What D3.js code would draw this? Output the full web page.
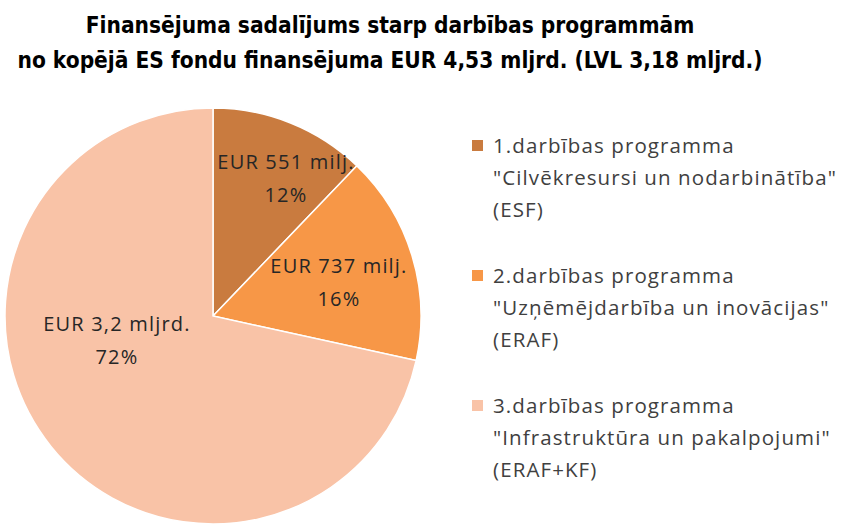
<!DOCTYPE html>
<html>
<head>
<meta charset="utf-8">
<script src="https://cdn.jsdelivr.net/npm/d3@7"></script>
<style>
  body { margin: 0; background: #fff; }
  svg { display: block; }
</style>
</head>
<body>
<div id="chart"></div>
<script>
// dati (milj. EUR)
const programmas = ["1.darbības programma", "2.darbības programma", "3.darbības programma"];
const apraksti = ["\"Cilvēkresursi un nodarbinātība\"", "\"Uzņēmējdarbība un inovācijas\"", "\"Infrastruktūra un pakalpojumi\""];
const fondi = ["(ESF)", "(ERAF)", "(ERAF+KF)"];
const vertibas = [551, 737, 3242];
const summas = ["EUR 551 milj.", "EUR 737 milj.", "EUR 3,2 mljrd."];
const procenti = ["12%", "16%", "72%"];
const krasas = ["#C97B3F", "#F79747", "#F9C3A7"];

const width = 842, height = 527;
const cx = 213, cy = 316, r = 208;

const svg = d3.select("#chart").append("svg")
    .attr("width", width)
    .attr("height", height);

// virsraksts
const title = svg.append("text")
    .attr("text-anchor", "middle")
    .attr("font-family", "'DejaVu Sans Condensed', 'Liberation Sans Narrow', sans-serif")
    .attr("font-weight", "bold")
    .attr("font-size", 22.5)
    .attr("fill", "#000");
title.append("tspan").attr("x", 390).attr("y", 33).text("Finansējuma sadalījums starp darbības programmām");
title.append("tspan").attr("x", 390).attr("y", 68).text("no kopējā ES fondu finansējuma EUR 4,53 mljrd. (LVL 3,18 mljrd.)");

// pīrāgs
const pie = d3.pie().sort(null).value(d => d);
const arcs = pie(vertibas);
const arc = d3.arc().innerRadius(0).outerRadius(r);

const g = svg.append("g").attr("transform", `translate(${cx},${cy})`);

g.selectAll("path")
    .data(arcs)
    .enter()
    .append("path")
    .attr("d", arc)
    .attr("fill", (d, i) => krasas[i])
    .attr("stroke", "#fff")
    .attr("stroke-width", 1.5);

// etiķetes: rādiuss un leņķa nobīde katrai daļai
const labelPos = [
    { k: 0.748, da: 0.106 },
    { k: 0.626, da: 0.039 },
    { k: 0.477, da: 0.423 }
];
const labels = g.selectAll(".lbl")
    .data(arcs)
    .enter()
    .append("text")
    .attr("class", "lbl")
    .attr("text-anchor", "middle")
    .attr("font-family", "'Open Sans', 'Noto Sans', sans-serif")
    .attr("font-size", 20)
    .attr("letter-spacing", 1.2)
    .attr("fill", "#262626")
    .attr("transform", (d, i) => {
        const a = (d.startAngle + d.endAngle) / 2 + labelPos[i].da;
        const rr = r * labelPos[i].k;
        return `translate(${Math.sin(a) * rr},${-Math.cos(a) * rr})`;
    });
labels.append("tspan").attr("x", 0).attr("dy", "-0.5em").text((d, i) => summas[i]);
labels.append("tspan").attr("x", 0).attr("dy", "1.65em").text((d, i) => procenti[i]);

// leģenda
const legend = svg.append("g").attr("transform", "translate(472,0)");
const items = legend.selectAll(".item")
    .data(programmas)
    .enter()
    .append("g")
    .attr("class", "item")
    .attr("transform", (d, i) => `translate(0,${146 + i * 130})`);

items.append("rect")
    .attr("x", 0).attr("y", -6)
    .attr("width", 11).attr("height", 11)
    .attr("fill", (d, i) => krasas[i]);

const lt = items.append("text")
    .attr("font-family", "'Open Sans', 'Noto Sans', sans-serif")
    .attr("font-size", 20.5)
    .attr("letter-spacing", 1.1)
    .attr("fill", "#404040");
lt.append("tspan").attr("x", 21).attr("y", 7).text(d => d);
lt.append("tspan").attr("x", 21).attr("y", 39).text((d, i) => apraksti[i]);
lt.append("tspan").attr("x", 21).attr("y", 71).text((d, i) => fondi[i]);
</script>
</body>
</html>
